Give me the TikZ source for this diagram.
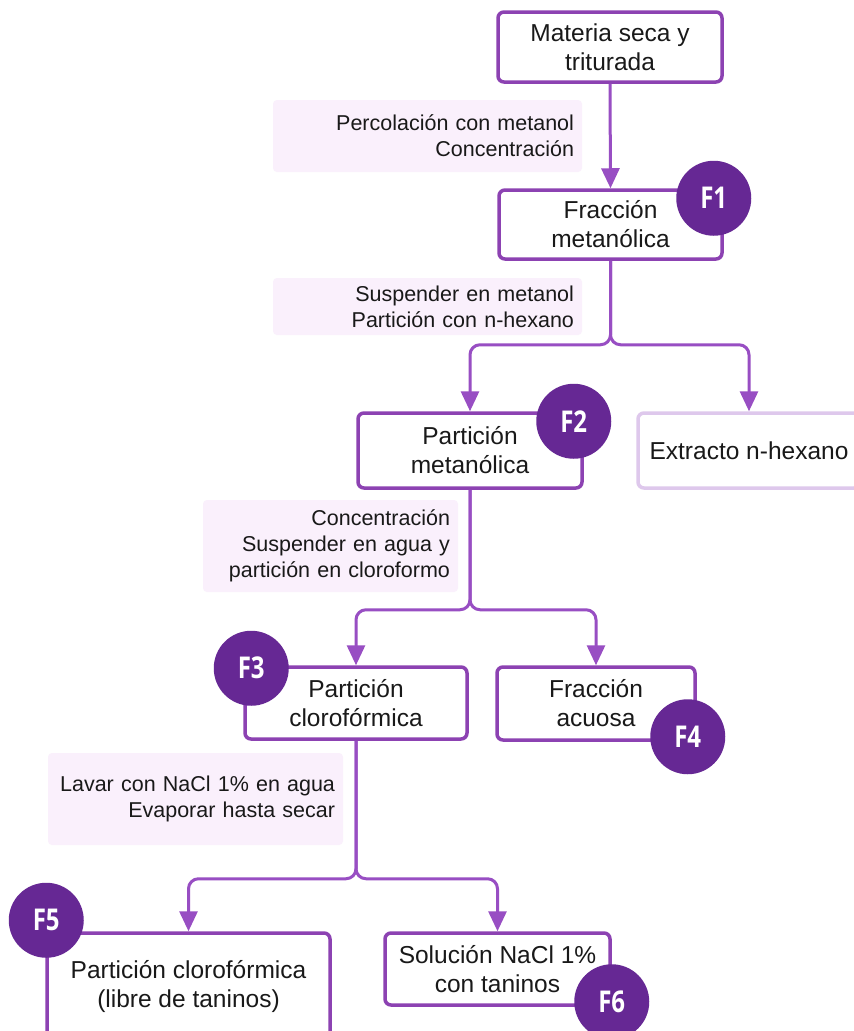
\documentclass[tikz,border=0pt]{standalone}
\usepackage{fontspec}
\setmainfont{Liberation Sans}
\newfontfamily\numfont[FakeStretch=0.8]{Open Sans}
\usetikzlibrary{arrows.meta,positioning}

\definecolor{boxline}{RGB}{140,66,178}
\definecolor{flowline}{RGB}{152,78,195}
\definecolor{dotfill}{RGB}{102,40,148}
\definecolor{notefill}{RGB}{250,240,252}
\definecolor{paleline}{RGB}{222,200,236}
\definecolor{ink}{RGB}{25,25,25}

\begin{document}
\begin{tikzpicture}[x=1pt,y=-1pt,>={Triangle[length=20pt,width=18pt]},
    box/.style={draw=boxline,line width=3.5pt,rounded corners=6pt,fill=white,
                text=ink,align=center,inner sep=0pt,
                font=\fontsize{24.5}{29}\selectfont},
    note/.style={fill=notefill,rounded corners=4pt,text=ink,align=right,
                 inner xsep=8pt,inner ysep=0pt,
                 font=\fontsize{21.5}{26}\selectfont},
    fnum/.style={circle,fill=dotfill,text=white,minimum size=75pt,inner sep=0pt,
                 font=\numfont\bfseries\fontsize{30}{30}\selectfont},
    flow/.style={->,draw=flowline,line width=3pt,rounded corners=10pt}]

  \useasboundingbox[fill=white] (0,0) rectangle (854,1031);

  \node[box,minimum width=224pt,minimum height=70pt] (raw) at (610,47)    {Materia seca y\\triturada};
  \node[box,minimum width=223pt,minimum height=69pt] (f1)  at (610.5,224.5) {Fracción\\metanólica};
  \node[box,minimum width=224pt,minimum height=75pt] (f2)  at (470,450.5) {Partición\\metanólica};
  \node[box,draw=paleline,minimum width=222pt,minimum height=75pt] (ext) at (749,450.5) {Extracto n-hexano};
  \node[box,minimum width=222pt,minimum height=72pt] (f3)  at (356,703)   {Partición\\clorofórmica};
  \node[box,minimum width=198pt,minimum height=73pt] (f4)  at (596,703.5) {Fracción\\acuosa};
  \node[box,minimum width=283pt,minimum height=108pt] (f5) at (188.5,987) {Partición clorofórmica\\(libre de taninos)};
  \node[box,minimum width=225pt,minimum height=72pt] (f6)  at (497.5,969) {Solución NaCl 1\%\\con taninos};

  \node[note,text width=293pt,minimum height=72pt] (s1) at (427.5,136)   {Percolación con metanol\\Concentración};
  \node[note,text width=293pt,minimum height=57pt] (s2) at (427.5,306.5) {Suspender en metanol\\Partición con n-hexano};
  \node[note,text width=239pt,minimum height=92pt] (s3) at (330.5,546)   {Concentración\\Suspender en agua y\\partición en cloroformo};
  \node[note,text width=279pt,minimum height=92pt] (s4) at (195.5,799)   {Lavar con NaCl 1\% en agua\\Evaporar hasta secar};

  \draw[flow] (raw.south) -- (f1.north);
  \draw[flow] (f1.south) -- ++(0,84) -| (f2.north);
  \draw[flow] (f1.south) -- ++(0,84) -| (ext.north);
  \draw[flow] (f2.south) -- ++(0,120) -| (f3.north);
  \draw[flow] (f2.south) -- ++(0,120) -| (f4.north);
  \draw[flow] (f3.south) -- ++(0,138) -| (f5.north);
  \draw[flow] (f3.south) -- ++(0,138) -| (f6.north);

  \node[fnum] at ([shift={(-10,10)}]f1.north east) {F1};
  \node[fnum] at ([shift={(-10,10)}]f2.north east) {F2};
  \node[fnum] at ([shift={(8,3)}]f3.north west)    {F3};
  \node[fnum] at ([shift={(-9,-5)}]f4.south east)  {F4};
  \node[fnum] at ([shift={(1,-11)}]f5.north west)  {F5};
  \node[fnum] at ([shift={(0,-5)}]f6.south east)   {F6};
\end{tikzpicture}
\end{document}
